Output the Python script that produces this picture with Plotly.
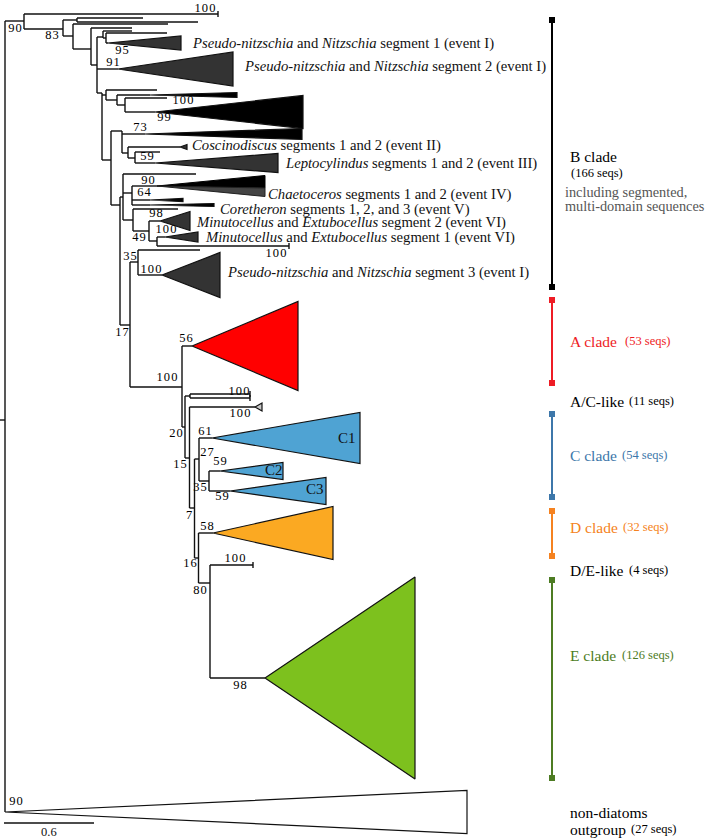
import plotly.graph_objects as go

# ---------------- tree data (x = cumulative branch depth, y = row position) -------------
node_name   = ["R", "N1", "N2", "N3", "N4", "N5", "N6", "N7", "N7b", "N8", "N9", "N10", "N11",
               "NL", "N73", "NCL", "NLep", "X", "NCh", "NCh2", "Ncor", "M1", "M2",
               "Y", "Z", "AC", "Q", "CH", "S", "U", "C", "C23", "V", "W"]
node_parent = [None, "R", "N1", "N2", "N2", "N4", "N5", "N6", "N7", "N6", "N8", "N9", "N10",
               "N8", "NL", "N73", "NCL", "NL", "X", "NCh", "NCh", "Ncor", "M1",
               "X", "Y", "Y", "AC", "Q", "Q", "S", "U", "C", "U", "V"]
node_x      = [5, 24, 63, 77, 73, 91, 97, 103, 106, 102, 106, 117, 125,
               111, 122, 128, 135, 120, 123, 132, 133, 149, 157,
               130, 138, 182, 185, 190, 189.5, 194.5, 199, 209, 198.5, 210]
node_y      = [420, 21, 29, 20, 36, 49, 65, 37, 38, 93, 95, 100, 105,
               160, 131, 153, 158, 205, 197, 193, 220, 231, 241,
               325, 262, 387, 427, 396, 458, 508, 459, 481, 558, 583]

leaf_parent = ["N1", "N3", "N3", "N4", "N5", "N7", "N7b", "N9", "N11", "NLep", "NCh", "Ncor",
               "M2", "Z", "CH", "CH", "W"]
leaf_end    = [218, 143, 198, 168, 132, 132, 167, 157, 167, 160, 196, 178,
               289, 200, 250, 250, 253]
leaf_y      = [14, 18, 22, 24, 28, 31, 33, 90, 98, 152, 174, 209,
               246, 250, 394, 398, 565]
leaf_tick   = [True, False, False, False, False, False, False, False, False, False, False, False,
               True, False, True, True, True]

clade_name   = ["seg1", "seg2", "wedgeB", "black99", "wedge73", "cosc", "lepto", "chaeto",
                "wedgeCh1", "wedgeCh2", "mseg2", "mseg1", "seg3", "A", "ACg",
                "C1", "C2", "C3", "D", "E", "OG"]
clade_parent = ["N7b", "N6", "N10", "N11", "N73", "NCL", "NLep", "NCh2",
                "NCh2", "NCh2", "M1", "M2", "Z", "AC", "S",
                "C", "C23", "C23", "V", "W", "R"]
clade_apex   = [108, 118, 150, 155, 145, 180, 155, 157,
                150, 150, 160, 165, 162, 192, 255,
                212, 220, 230, 213, 265, 5]
clade_tip    = [181, 233, 237, 303, 302, 187, 278, 265,
                183, 214, 190, 198, 220, 298, 262,
                360, 283, 326, 333, 415, 467]
clade_y      = [43, 69, 95, 112, 134, 147, 163, 186,
                200, 205, 221, 237, 275, 346, 407,
                438, 471, 491, 533, 678, 812]
clade_half   = [7, 17, 2.5, 16.5, 5.5, 2.5, 9.5, 10.5,
                1.5, 1.5, 9.5, 5, 22.5, 44.5, 4,
                25.5, 8.5, 13.5, 26.5, 101, 21.5]
clade_group  = ["dark", "dark", "black", "black", "black", "dark", "dark", "split",
                "black", "black", "dark", "dark", "dark", "A", "grey",
                "C", "C", "C", "D", "E", "out"]

# bootstrap support values
boot_text = ["100", "90", "83", "95", "91", "100", "99", "73", "59", "90", "64", "98", "100", "49",
             "100", "35", "100", "17", "56", "100", "100", "100", "20", "61", "15", "27", "59",
             "35", "59", "7", "58", "16", "100", "80", "98", "90"]
boot_x    = [205, 15, 52, 122, 113, 183, 164, 140, 147, 148, 144, 156, 166, 139,
             276, 130, 151, 122, 186, 167, 239, 240, 176, 205, 180, 207, 220,
             200, 222, 189, 207, 190, 235, 200, 240, 16]
boot_y    = [9, 29, 36, 51, 63, 101, 118, 128, 157, 181, 193, 214, 230, 238,
             254, 257, 270, 333, 339, 378, 392, 414, 434, 432, 465, 453, 462,
             488, 497, 516, 527, 564, 559, 591, 686, 802]

# collapsed-clade labels
seg_label = ["<i>Pseudo-nitzschia</i> and <i>Nitzschia</i> segment 1 (event I)",
             "<i>Pseudo-nitzschia</i> and <i>Nitzschia</i> segment 2 (event I)",
             "<i>Coscinodiscus</i> segments 1 and 2 (event II)",
             "<i>Leptocylindus</i> segments 1 and 2 (event III)",
             "<i>Chaetoceros</i> segments 1 and 2 (event IV)",
             "<i>Coretheron</i> segments 1, 2, and 3 (event V)",
             "<i>Minutocellus</i> and <i>Extubocellus</i> segment 2 (event VI)",
             "<i>Minutocellus</i> and <i>Extubocellus</i> segment 1 (event VI)",
             "<i>Pseudo-nitzschia</i> and <i>Nitzschia</i> segment 3 (event I)"]
seg_x = [190, 242, 190, 283, 266, 218, 194, 203, 225]
seg_y = [43, 66, 145, 163, 194, 209, 222, 237, 272]

inner_label = ["C1", "C2", "C3"]
inner_x     = [347, 274, 315]
inner_y     = [438, 470, 489]

# clade brackets on the right
bar_group = ["B", "A", "C", "D", "E"]
bar_top   = [20, 300, 414, 511, 580]
bar_bot   = [287, 383, 497, 556, 778]

clade_title = ["B clade", "A clade", "A/C-like", "C clade", "D clade", "D/E-like", "E clade",
               "non-diatoms", "outgroup"]
title_y     = [156, 341, 401, 455, 527, 570, 655, 812, 829]
title_group = ["B", "A", "ac", "C", "D", "de", "E", "out", "out"]
count_text  = ["(166 seqs)", "(53 seqs)", "(11 seqs)", "(54 seqs)", "(32 seqs)", "(4 seqs)",
               "(126 seqs)", "", "(27 seqs)"]
count_x     = [569, 623, 627, 620, 621, 627, 620, 0, 629]
count_y     = [173, 341, 401, 455, 527, 570, 655, 0, 829]
note_text   = ["including segmented,", "multi-domain sequences"]
note_y      = [192, 206]

scale_value = 0.6
scale_len_px = 90
# -------------------------------------------------------------------------------------

FONT = "Liberation Serif, Times New Roman, serif"
HS = "\u200a"
fill_col = {"dark": "#333333", "black": "#000000", "A": "#ff0000", "grey": "#c9c9c9",
            "C": "#4fa3d3", "D": "#fba922", "E": "#7dc11e", "out": "#ffffff"}
text_col = {"B": "#000000", "A": "#ee1c25", "ac": "#000000", "C": "#3d77aa", "D": "#f58220",
            "de": "#000000", "E": "#4d7c23", "out": "#000000"}

pos = {n: (x, y) for n, x, y in zip(node_name, node_x, node_y)}
children_y = {n: [] for n in node_name}
for n, p, y in zip(node_name, node_parent, node_y):
    if p:
        children_y[p].append(y)
for p, y in zip(leaf_parent, leaf_y):
    children_y[p].append(y)
for p, y in zip(clade_parent, clade_y):
    children_y[p].append(y)

lx, ly = [], []
def seg(x0, y0, x1, y1):
    lx.extend([x0, x1, None]); ly.extend([y0, y1, None])

for n, p in zip(node_name, node_parent):
    x, y = pos[n]
    ys = children_y[n] + [y]
    seg(x, min(ys), x, max(ys))
    px = pos[p][0] if p else 0
    seg(px, y, x, y)
for p, e, y, t in zip(leaf_parent, leaf_end, leaf_y, leaf_tick):
    seg(pos[p][0], y, e, y)
    if t:
        seg(e, y - 3, e, y + 3)
for p, a, y in zip(clade_parent, clade_apex, clade_y):
    if a > pos[p][0]:
        seg(pos[p][0], y, a, y)

fig = go.Figure()
fig.add_trace(go.Scatter(x=lx, y=ly, mode="lines", line=dict(color="#111111", width=1.4),
                         hoverinfo="skip", showlegend=False))

for nm, a, t, y, h, g in zip(clade_name, clade_apex, clade_tip, clade_y, clade_half, clade_group):
    if g == "split":
        fig.add_trace(go.Scatter(x=[a, t, t, a], y=[y, y - h, y + 2, y], fill="toself",
                                 fillcolor="#000000", mode="lines", line=dict(color="#000", width=1),
                                 hoverinfo="skip", showlegend=False))
        fig.add_trace(go.Scatter(x=[a, t, t, a], y=[y, y + 2, y + h, y], fill="toself",
                                 fillcolor="#444444", mode="lines", line=dict(color="#222", width=1),
                                 hoverinfo="skip", showlegend=False))
        continue
    fig.add_trace(go.Scatter(x=[a, t, t, a], y=[y, y - h, y + h, y], fill="toself",
                             fillcolor=fill_col[g], mode="lines",
                             line=dict(color="#111111", width=1.2),
                             hoverinfo="skip", showlegend=False))

fig.add_trace(go.Scatter(x=boot_x, y=boot_y, mode="text",
                         text=[HS.join(t) for t in boot_text],
                         textfont=dict(family=FONT, size=12.5, color="#000"),
                         hoverinfo="skip", showlegend=False))

for t, x, y in zip(seg_label, seg_x, seg_y):
    fig.add_annotation(x=x, y=y, text=t, showarrow=False, xanchor="left", yanchor="middle",
                       font=dict(family=FONT, size=14.7, color="#111"))
for t, x, y in zip(inner_label, inner_x, inner_y):
    fig.add_annotation(x=x, y=y, text=t, showarrow=False, xanchor="center", yanchor="middle",
                       font=dict(family=FONT, size=15, color="#111"))

bar_x = 552
for g, t0, t1 in zip(bar_group, bar_top, bar_bot):
    c = text_col[g]
    fig.add_trace(go.Scatter(x=[bar_x, bar_x], y=[t0, t1], mode="lines+markers",
                             line=dict(color=c, width=2),
                             marker=dict(symbol="square", size=6, color=c),
                             hoverinfo="skip", showlegend=False))

for t, y, g, ct, cx, cy in zip(clade_title, title_y, title_group, count_text, count_x, count_y):
    c = text_col[g]
    fig.add_annotation(x=568, y=y, text=t, showarrow=False, xanchor="left", yanchor="middle",
                       font=dict(family=FONT, size=15.5, color=c))
    if ct:
        fig.add_annotation(x=cx, y=cy, text=ct, showarrow=False, xanchor="left", yanchor="middle",
                           font=dict(family=FONT, size=12.5, color=c))
for t, y in zip(note_text, note_y):
    fig.add_annotation(x=563, y=y, text=t, showarrow=False, xanchor="left", yanchor="middle",
                       font=dict(family=FONT, size=14.3, color="#555555"))

# scale bar
fig.add_trace(go.Scatter(x=[4, 4 + scale_len_px], y=[823, 823], mode="lines",
                         line=dict(color="#111", width=1.4), hoverinfo="skip", showlegend=False))
fig.add_annotation(x=4 + scale_len_px / 2, y=832, text=str(scale_value), showarrow=False,
                   xanchor="center", yanchor="middle", font=dict(family=FONT, size=12.5, color="#111"))

fig.update_layout(width=709, height=839, margin=dict(l=0, r=0, t=0, b=0),
                  paper_bgcolor="white", plot_bgcolor="white")
fig.update_xaxes(range=[0, 709], visible=False, fixedrange=True)
fig.update_yaxes(range=[839, 0], visible=False, fixedrange=True)
fig.write_html("out.html", config={"displayModeBar": False},
               post_script="document.body.style.margin='0px';document.body.style.overflow='hidden';")
